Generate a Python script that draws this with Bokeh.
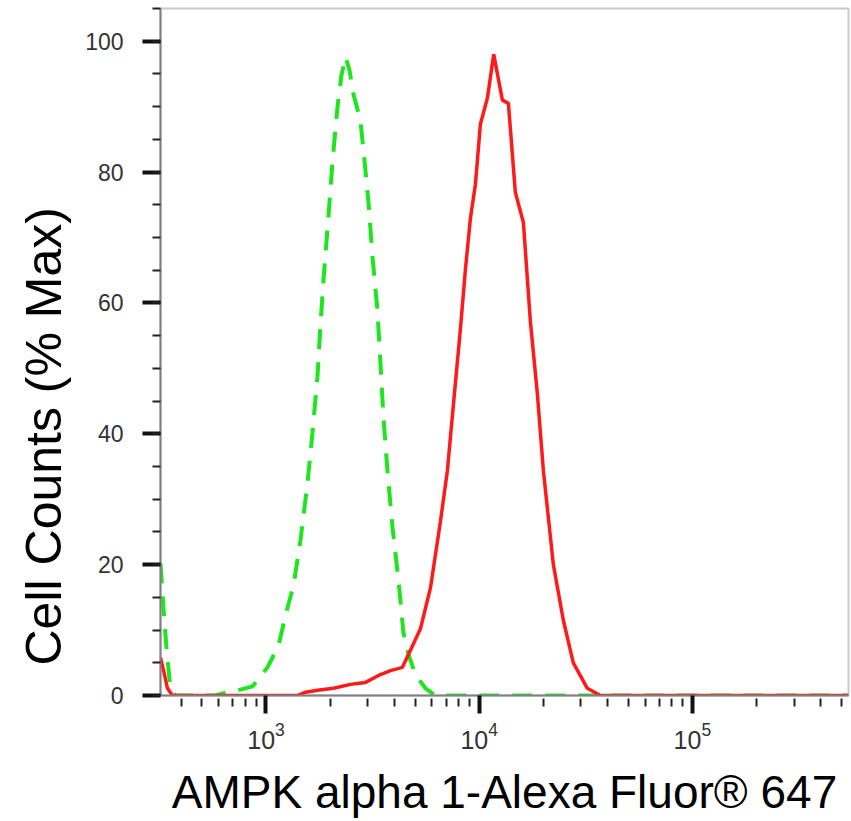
from bokeh.plotting import figure
from bokeh.models import Range1d, FixedTicker, SingleIntervalTicker, LogTickFormatter, Title
from bokeh.embed import file_html
from bokeh.resources import INLINE

# Fluorescence intensity (x) and % of max cell counts (y)
control_x = [320, 331, 342, 357, 376, 580, 660, 759, 865, 1016, 1144, 1234, 1346, 1451,
             1565, 1652, 1744, 1801, 1860, 1963, 2050, 2164, 2259, 2359, 2463, 2572,
             2773, 2896, 3023, 3158, 3332, 3442, 3555, 3712, 3918, 4181, 4412, 4658,
             5022, 5596, 6233, 540000]
control_y = [20.2, 13.0, 6.9, 0.8, 0.0, 0.0, 0.5, 0.9, 1.4, 4.3, 7.6, 12.2, 16.8, 23.7,
             32.4, 40.2, 48.8, 56.6, 63.5, 73.2, 81.5, 89.9, 94.8, 97.6, 95.6, 91.9,
             87.9, 81.8, 75.5, 67.1, 58.9, 50.8, 42.5, 34.4, 25.8, 17.7, 9.6, 6.3,
             3.2, 1.1, 0.0, 0.0]

sample_x = [320, 331, 345, 364, 1405, 1532, 1744, 2073, 2490, 2928, 3442, 3834, 4365,
            4760, 5302, 5906, 6580, 7096, 7489, 8164, 8618, 9095, 9599, 10130, 10925,
            11700, 12850, 13710, 14780, 16120, 17380, 18740, 20000, 22280, 24820,
            27640, 32160, 37000, 540000]
sample_y = [5.8, 3.8, 1.1, 0.0, 0.0, 0.5, 0.8, 1.1, 1.7, 2.0, 3.2, 3.8, 4.3,
            6.9, 10.2, 16.4, 26.6, 34.4, 42.8, 56.0, 65.1, 72.9, 78.1, 87.3, 91.3,
            98.0, 91.0, 90.5, 76.9, 72.3, 57.2, 46.2, 34.4, 20.0, 11.5,
            5.0, 1.1, 0.0, 0.0]

x_major = [1e3, 1e4, 1e5]
x_minor = [k * 10 ** d for d in range(2, 6) for k in range(2, 10)]

x_title = "AMPK alpha 1-Alexa Fluor® 647"
y_title = "Cell Counts (% Max)"

FONT = "Liberation Sans"

p = figure(width=851, height=821, x_axis_type="log",
           x_range=Range1d(320, 540000), y_range=Range1d(0, 105),
           output_backend="svg", toolbar_location=None,
           min_border_left=160, min_border_right=3, min_border_top=8,
           min_border_bottom=126)
p.grid.visible = False
p.background_fill_color = "white"
p.outline_line_color = "#c8c8c8"
p.outline_line_width = 2

p.line(control_x, control_y, line_color="#1ee61e", line_width=4, line_dash="20 13")
p.line(sample_x, sample_y, line_color="#ff1a1a", line_width=3.5)

xa = p.xaxis[0]
xa.ticker = FixedTicker(ticks=x_major, minor_ticks=x_minor)
xa.formatter = LogTickFormatter()
xa.axis_line_color = "#808080"
xa.axis_line_width = 2
xa.major_tick_line_color = "#111111"
xa.major_tick_line_width = 4
xa.major_tick_in = 0
xa.major_tick_out = 18
xa.minor_tick_line_color = "#222222"
xa.minor_tick_line_width = 2
xa.minor_tick_in = -3
xa.minor_tick_out = 11
xa.major_label_text_font = FONT
xa.major_label_text_font_size = "25px"
xa.major_label_text_color = "#333333"
xa.major_label_standoff = 8
xa.axis_label = x_title
xa.axis_label_text_font = FONT
xa.axis_label_text_font_size = "46px"
xa.axis_label_text_font_style = "normal"
xa.axis_label_text_color = "#000000"
xa.axis_label_standoff = 14

ya = p.yaxis[0]
ya.ticker = SingleIntervalTicker(interval=20, num_minor_ticks=4)
ya.axis_line_color = "#808080"
ya.axis_line_width = 2
ya.major_tick_line_color = "#111111"
ya.major_tick_line_width = 4
ya.major_tick_in = 0
ya.major_tick_out = 18
ya.minor_tick_line_color = "#222222"
ya.minor_tick_line_width = 2
ya.minor_tick_in = 0
ya.minor_tick_out = 8
ya.major_label_text_font = FONT
ya.major_label_text_font_size = "23px"
ya.major_label_text_color = "#333333"
ya.major_label_standoff = 19

p.add_layout(Title(text=y_title, align="left", offset=30, standoff=22,
                   text_font=FONT, text_font_size="50px", text_font_style="normal",
                   text_color="#000000"), "left")

open("out.html", "w").write(file_html(p, INLINE))
